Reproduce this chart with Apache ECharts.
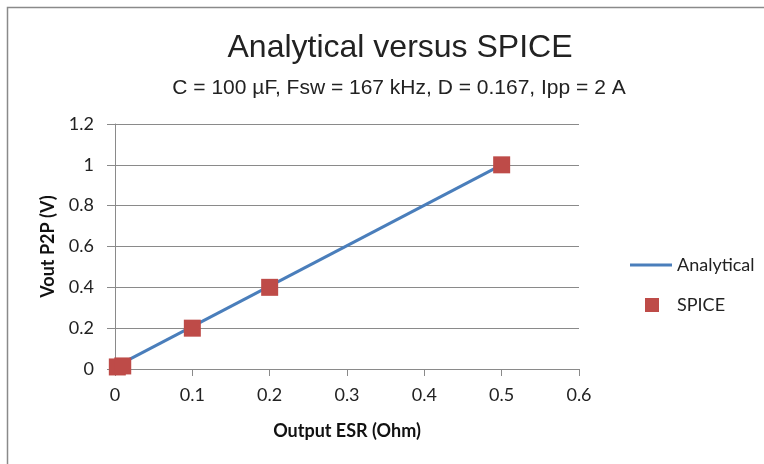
<!DOCTYPE html>
<html><head><meta charset="utf-8">
<script src="https://cdn.jsdelivr.net/npm/echarts@6/dist/echarts.min.js"></script>
<style>html,body{margin:0;padding:0;background:#fff}#c{width:764px;height:464px}</style>
</head><body><div id="c"></div>
<script>
const esrAnalytical = [0.005, 0.5];
const vppAnalytical = [0.02, 1.0];
const esrSpice = [0.003, 0.01, 0.1, 0.2, 0.5];
const vppSpice = [0.01, 0.015, 0.2, 0.4, 1.0];
const xTicks = [0, 0.1, 0.2, 0.3, 0.4, 0.5, 0.6];
const yTicks = [0, 0.2, 0.4, 0.6, 0.8, 1, 1.2];

const lab = "Lato, 'Open Sans', sans-serif";
const ttl = "'Liberation Sans Narrow', 'Liberation Sans', Arial, sans-serif";
const chart = echarts.init(document.getElementById('c'), null, {renderer: 'canvas'});
chart.setOption({
  animation: false,
  backgroundColor: '#fff',
  graphic: [{type: 'rect', shape: {x: 7.5, y: 7.5, width: 800, height: 600},
    style: {fill: 'none', stroke: '#8a8a8a', lineWidth: 1.5}, z: 100, silent: true}],
  title: [
    {text: 'Analytical versus SPICE', left: 395, textAlign: 'center', top: 27,
     textStyle: {fontFamily: ttl, fontSize: 32, fontWeight: 'normal', color: '#222'}},
    {text: 'C = 100 µF, Fsw = 167 kHz, D = 0.167, Ipp = 2 A', left: 394, textAlign: 'center', top: 73,
     textStyle: {fontFamily: ttl, fontSize: 21, fontWeight: 'normal', color: '#222'}}
  ],
  legend: [
    {data: ['Analytical'], left: 625, top: 251, icon: 'rect', itemWidth: 42, itemHeight: 3,
     itemGap: 0, textStyle: {fontFamily: lab, fontSize: 18, color: '#222'}},
    {data: ['SPICE'], left: 640, top: 291, icon: 'rect', itemWidth: 14, itemHeight: 14,
     textStyle: {fontFamily: lab, fontSize: 18, color: '#222', padding: [0, 0, 0, 13]}}
  ],
  grid: {left: 115, top: 124, right: 185, bottom: 95, containLabel: false},
  xAxis: {
    type: 'value', min: xTicks[0], max: xTicks[xTicks.length - 1], interval: 0.1,
    name: 'Output ESR (Ohm)', nameLocation: 'middle', nameGap: 53,
    nameTextStyle: {fontFamily: lab, fontSize: 18, fontWeight: 'bold', color: '#111'},
    axisLine: {show: true, lineStyle: {color: '#8a8a8a', width: 1}},
    axisTick: {show: true, length: 7, lineStyle: {color: '#8a8a8a'}},
    axisLabel: {fontFamily: lab, fontSize: 18, color: '#222', margin: 17},
    splitLine: {show: false}
  },
  yAxis: {
    type: 'value', min: yTicks[0], max: yTicks[yTicks.length - 1], interval: 0.2,
    name: 'Vout P2P (V)', nameLocation: 'middle', nameGap: 58, nameRotate: 90,
    nameTextStyle: {fontFamily: lab, fontSize: 18, fontWeight: 'bold', color: '#111'},
    axisLine: {show: true, lineStyle: {color: '#8a8a8a', width: 1}},
    axisTick: {show: true, length: 8, lineStyle: {color: '#8a8a8a'}},
    axisLabel: {fontFamily: lab, fontSize: 18, color: '#222', margin: 21},
    splitLine: {show: true, lineStyle: {color: '#8a8a8a', width: 1}}
  },
  series: [
    {name: 'Analytical', type: 'line', showSymbol: false, symbol: 'none',
     data: esrAnalytical.map((x, i) => [x, vppAnalytical[i]]),
     lineStyle: {color: '#4a7ebb', width: 3}, itemStyle: {color: '#4a7ebb'}, z: 2},
    {name: 'SPICE', type: 'scatter', symbol: 'rect', symbolSize: 17,
     data: esrSpice.map((x, i) => [x, vppSpice[i]]),
     itemStyle: {color: '#be4b48', opacity: 1}, z: 3}
  ]
});
</script></body></html>
